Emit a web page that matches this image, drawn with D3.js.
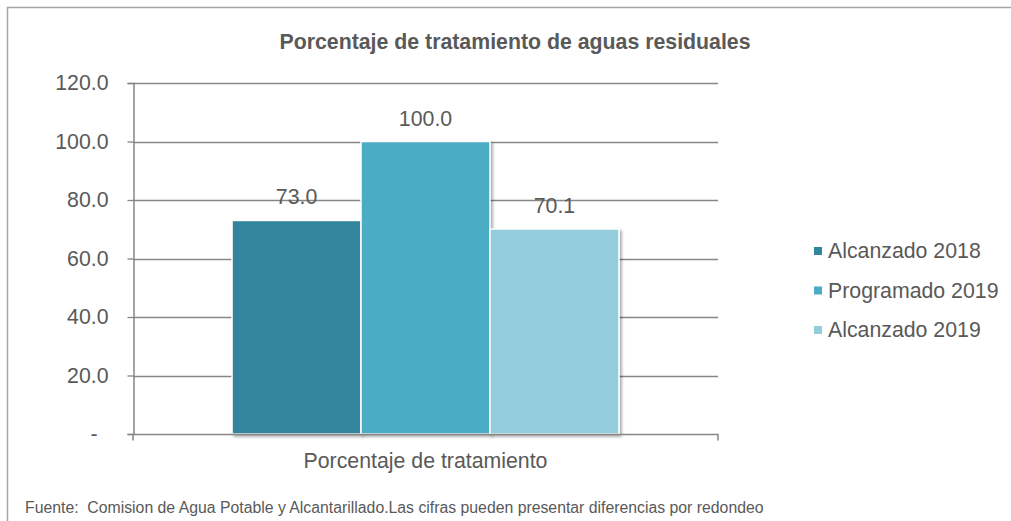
<!DOCTYPE html>
<html>
<head>
<meta charset="utf-8">
<script src="https://cdn.jsdelivr.net/npm/d3@7"></script>
<style>
  body { margin: 0; background: #fff; }
  text { font-family: "Liberation Sans", Arial, sans-serif; fill: #595959; }
</style>
</head>
<body>
<svg id="chart" width="1011" height="521"></svg>
<script>
const categories = ['Porcentaje de tratamiento'];
const seriesNames = ['Alcanzado 2018', 'Programado 2019', 'Alcanzado 2019'];
const seriesValues = [73.0, 100.0, 70.1];
const seriesColors = ['#31859c', '#4bacc6', '#93cddd'];
const yTicks = [0, 20, 40, 60, 80, 100, 120];

const svg = d3.select('svg#chart');
const fontSize = 21.3;

// outer frame
svg.append('path')
  .attr('d', 'M7.5,530 L7.5,7.5 L1020,7.5')
  .attr('fill', 'none')
  .attr('stroke', '#a6a6a6')
  .attr('stroke-width', 1.5);

svg.append('text')
  .attr('x', 515)
  .attr('y', 49)
  .attr('text-anchor', 'middle')
  .attr('font-size', fontSize)
  .attr('font-weight', 'bold')
  .text('Porcentaje de tratamiento de aguas residuales');

const plotLeft = 133, plotRight = 718, plotTop = 83, plotBottom = 434;

const y = d3.scaleLinear().domain([0, 120]).range([plotBottom, plotTop]);
const x0 = d3.scaleBand().domain(categories).range([plotLeft, plotRight]).paddingInner(0).paddingOuter(0.256);
const x1 = d3.scaleBand().domain(seriesNames).range([0, x0.bandwidth()]);

// gridlines
svg.append('g')
  .selectAll('line')
  .data(yTicks.filter(d => d > 0))
  .join('line')
  .attr('x1', plotLeft)
  .attr('x2', plotRight)
  .attr('y1', d => Math.round(y(d)) + 0.5)
  .attr('y2', d => Math.round(y(d)) + 0.5)
  .attr('stroke', '#868686')
  .attr('stroke-width', 1.3);

// y axis
const yAxis = svg.append('g')
  .attr('transform', `translate(${plotLeft + 0.5},0)`)
  .call(d3.axisLeft(y).tickValues(yTicks).tickSize(6).tickPadding(19)
    .tickFormat(d => d === 0 ? '-' : d3.format('.1f')(d)));
yAxis.select('.domain').attr('stroke', '#868686').attr('stroke-width', 1.5);
yAxis.selectAll('.tick line').attr('stroke', '#868686').attr('stroke-width', 1.3);
yAxis.selectAll('.tick text')
  .attr('font-size', fontSize)
  .attr('font-family', '"Liberation Sans", Arial, sans-serif')
  .attr('fill', '#595959');
yAxis.selectAll('.tick')
  .filter(d => d === 0)
  .select('text')
  .attr('dx', -11);

// shadow filter for bars
const defs = svg.append('defs');
const f = defs.append('filter').attr('id', 'shadow').attr('x', '-10%').attr('y', '-10%').attr('width', '130%').attr('height', '130%');
f.append('feDropShadow').attr('dx', 2).attr('dy', 2).attr('stdDeviation', 1.5).attr('flood-color', '#000').attr('flood-opacity', 0.35);

const group = svg.append('g')
  .attr('transform', `translate(${x0(categories[0])},0)`);

group.selectAll('rect')
  .data(seriesValues)
  .join('rect')
  .attr('x', (d, i) => x1(seriesNames[i]))
  .attr('y', d => y(d))
  .attr('width', x1.bandwidth())
  .attr('height', d => plotBottom - y(d))
  .attr('fill', (d, i) => seriesColors[i])
  .attr('stroke', '#ffffff')
  .attr('stroke-width', 1.5)
  .attr('filter', 'url(#shadow)');

group.selectAll('text.value')
  .data(seriesValues)
  .join('text')
  .attr('class', 'value')
  .attr('x', (d, i) => x1(seriesNames[i]) + x1.bandwidth() / 2)
  .attr('y', d => y(d) - 16)
  .attr('text-anchor', 'middle')
  .attr('font-size', fontSize)
  .text(d => d3.format('.1f')(d));

// x axis
const xAxis = svg.append('g')
  .attr('transform', `translate(0,${plotBottom + 0.5})`)
  .call(d3.axisBottom(x0).tickSize(0).tickPadding(18));
xAxis.select('.domain').attr('stroke', '#868686').attr('stroke-width', 1.5)
  .attr('d', `M${plotLeft},6V0H${plotRight}V6`);
xAxis.selectAll('.tick text')
  .attr('font-size', fontSize)
  .attr('font-family', '"Liberation Sans", Arial, sans-serif')
  .attr('fill', '#595959');

// legend
const legend = svg.append('g').attr('transform', 'translate(814,0)');
seriesNames.forEach((name, i) => {
  const g = legend.append('g').attr('transform', `translate(0,${250 + i * 39.5})`);
  g.append('rect')
    .attr('x', 0).attr('y', -3)
    .attr('width', 8).attr('height', 8)
    .attr('fill', seriesColors[i]);
  g.append('text')
    .attr('x', 14).attr('y', 8)
    .attr('font-size', fontSize)
    .text(name);
});

svg.append('text')
  .attr('x', 25)
  .attr('y', 513)
  .attr('font-size', 15.8)
  .style('white-space', 'pre')
  .text('Fuente:  Comision de Agua Potable y Alcantarillado.Las cifras pueden presentar diferencias por redondeo');
</script>
</body>
</html>
